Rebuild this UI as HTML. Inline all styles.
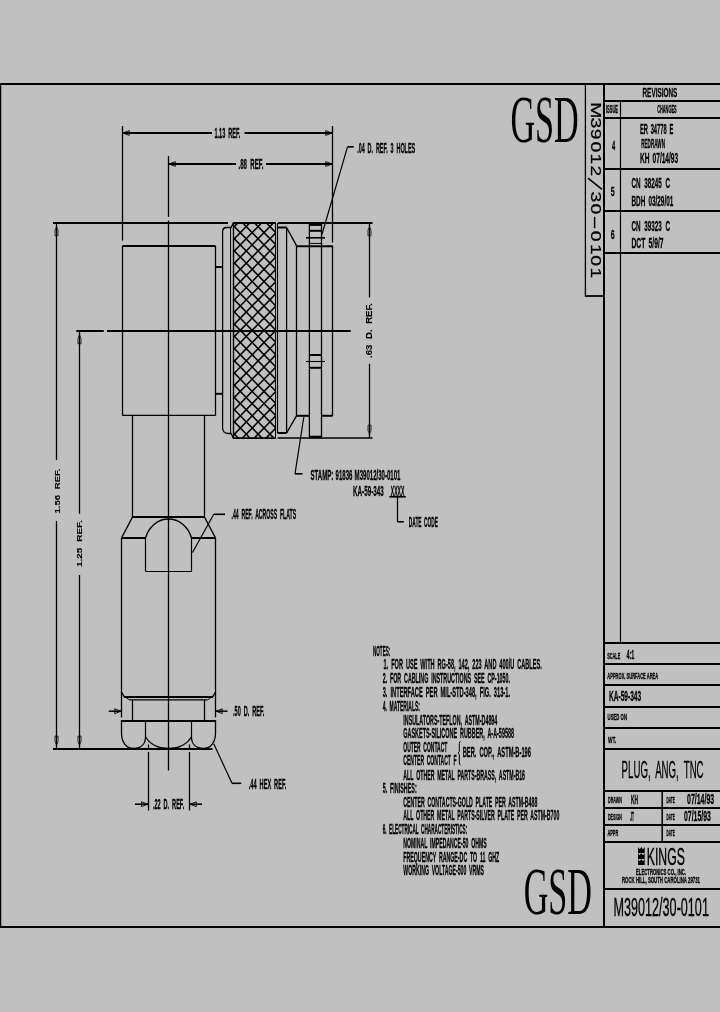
<!DOCTYPE html>
<html><head><meta charset="utf-8"><title>M39012/30-0101</title>
<style>
html,body{margin:0;padding:0;background:#c0c0c0;}
body{width:720px;height:1012px;overflow:hidden;font-family:"Liberation Sans",sans-serif;}
svg{display:block;position:absolute;left:0;top:0;will-change:transform;}
</style></head><body>
<svg width="720" height="1012" viewBox="0 0 720 1012" stroke="#000" fill="none" stroke-linecap="butt">
<rect x="0" y="0" width="720" height="1012" fill="#c0c0c0" stroke="none"/>
<g id="frame">
<line x1="0" y1="84" x2="720" y2="84" stroke-width="2.0" />
<line x1="0" y1="927" x2="720" y2="927" stroke-width="2.0" />
<line x1="0.6" y1="83" x2="0.6" y2="928" stroke-width="1.3" />
</g>
<g id="tb-lines">
<line x1="604" y1="83" x2="604" y2="927" stroke-width="2.0" />
<line x1="585.4" y1="83" x2="585.4" y2="296" stroke-width="1.3" />
<line x1="584.8" y1="296" x2="604" y2="296" stroke-width="1.8" />
<line x1="604" y1="101" x2="720" y2="101" stroke-width="2.0" />
<line x1="604" y1="118" x2="720" y2="118" stroke-width="2.0" />
<line x1="604" y1="169" x2="720" y2="169" stroke-width="2.0" />
<line x1="604" y1="211" x2="720" y2="211" stroke-width="2.0" />
<line x1="604" y1="253" x2="720" y2="253" stroke-width="2.0" />
<line x1="620.5" y1="101" x2="620.5" y2="643" stroke-width="1.2" />
<line x1="604" y1="643" x2="720" y2="643" stroke-width="2.0" />
<line x1="604" y1="664" x2="720" y2="664" stroke-width="2.0" />
<line x1="604" y1="685" x2="720" y2="685" stroke-width="2.0" />
<line x1="604" y1="707" x2="720" y2="707" stroke-width="2.0" />
<line x1="604" y1="728" x2="720" y2="728" stroke-width="2.0" />
<line x1="604" y1="749" x2="720" y2="749" stroke-width="2.0" />
<line x1="604" y1="791" x2="720" y2="791" stroke-width="2.0" />
<line x1="604" y1="808" x2="720" y2="808" stroke-width="2.0" />
<line x1="604" y1="825" x2="720" y2="825" stroke-width="2.0" />
<line x1="604" y1="842" x2="720" y2="842" stroke-width="2.0" />
<line x1="604" y1="889" x2="720" y2="889" stroke-width="2.0" />
<line x1="662.2" y1="791" x2="662.2" y2="842" stroke-width="1.5" />
</g>
<g id="tb-text">
<text x="642.50" y="96.70" font-size="13.66" font-weight="bold" font-family="Liberation Sans" textLength="34.80" lengthAdjust="spacingAndGlyphs" stroke="#000" stroke-width="0.3"  fill="#000" >REVISIONS</text>
<text x="606.00" y="112.95" font-size="10.03" font-weight="bold" font-family="Liberation Sans" textLength="12.00" lengthAdjust="spacingAndGlyphs" stroke="#000" stroke-width="0.3"  fill="#000" >ISSUE</text>
<text x="657.20" y="112.95" font-size="10.03" font-weight="bold" font-family="Liberation Sans" textLength="19.40" lengthAdjust="spacingAndGlyphs" stroke="#000" stroke-width="0.3"  fill="#000" >CHANGES</text>
<text x="612.00" y="149.65" font-size="12.65" font-weight="bold" font-family="Liberation Sans" textLength="3.20" lengthAdjust="spacingAndGlyphs" stroke="#000" stroke-width="0.3"  fill="#000" >4</text>
<text x="639.90" y="133.60" font-size="14.53" font-weight="bold" font-family="Liberation Sans" textLength="33.40" lengthAdjust="spacingAndGlyphs" stroke="#000" stroke-width="0.3" word-spacing="0.2em" fill="#000" >ER 34778 E</text>
<text x="641.20" y="148.15" font-size="12.35" font-weight="bold" font-family="Liberation Sans" textLength="23.80" lengthAdjust="spacingAndGlyphs" stroke="#000" stroke-width="0.3"  fill="#000" >REDRAWN</text>
<text x="639.90" y="162.90" font-size="14.53" font-weight="bold" font-family="Liberation Sans" textLength="38.30" lengthAdjust="spacingAndGlyphs" stroke="#000" stroke-width="0.3" word-spacing="0.2em" fill="#000" >KH 07/14/93</text>
<text x="610.70" y="195.85" font-size="12.65" font-weight="bold" font-family="Liberation Sans" textLength="3.90" lengthAdjust="spacingAndGlyphs" stroke="#000" stroke-width="0.3"  fill="#000" >5</text>
<text x="631.50" y="188.40" font-size="14.53" font-weight="bold" font-family="Liberation Sans" textLength="38.50" lengthAdjust="spacingAndGlyphs" stroke="#000" stroke-width="0.3" word-spacing="0.3em" fill="#000" >CN 38245 C</text>
<text x="631.50" y="205.70" font-size="14.53" font-weight="bold" font-family="Liberation Sans" textLength="41.80" lengthAdjust="spacingAndGlyphs" stroke="#000" stroke-width="0.3" word-spacing="0.2em" fill="#000" >BDH 03/29/01</text>
<text x="610.70" y="238.65" font-size="12.65" font-weight="bold" font-family="Liberation Sans" textLength="3.90" lengthAdjust="spacingAndGlyphs" stroke="#000" stroke-width="0.3"  fill="#000" >6</text>
<text x="631.50" y="230.60" font-size="14.53" font-weight="bold" font-family="Liberation Sans" textLength="38.50" lengthAdjust="spacingAndGlyphs" stroke="#000" stroke-width="0.3" word-spacing="0.3em" fill="#000" >CN 39323 C</text>
<text x="631.50" y="247.70" font-size="14.53" font-weight="bold" font-family="Liberation Sans" textLength="32.10" lengthAdjust="spacingAndGlyphs" stroke="#000" stroke-width="0.3" word-spacing="0.2em" fill="#000" >DCT 5/9/7</text>
<text transform="translate(590.5,0) rotate(90) scale(1.3,1)" x="78.62 90.43 99.11 108.80 118.15 127.38 147.35 156.57 177.57 187.77 196.34 205.69" y="0" font-size="14.9" font-weight="normal" font-family="Liberation Sans" stroke="#000" stroke-width="0.25" fill="#000">M39012300101</text>
<line x1="588" y1="178.2" x2="602" y2="189.3" stroke-width="1.5" />
<line x1="594.6" y1="216.8" x2="594.6" y2="228.2" stroke-width="1.5" />
<text x="607.30" y="658.75" font-size="9.74" font-weight="bold" font-family="Liberation Sans" textLength="12.90" lengthAdjust="spacingAndGlyphs" stroke="#000" stroke-width="0.3"  fill="#000" >SCALE</text>
<text x="626.50" y="658.75" font-size="12.65" font-weight="bold" font-family="Liberation Sans" textLength="7.90" lengthAdjust="spacingAndGlyphs" stroke="#000" stroke-width="0.3"  fill="#000" >4:1</text>
<text x="607.30" y="679.35" font-size="9.45" font-weight="bold" font-family="Liberation Sans" textLength="50.90" lengthAdjust="spacingAndGlyphs" stroke="#000" stroke-width="0.3"  fill="#000" >APPROX. SURFACE AREA</text>
<text x="608.90" y="700.65" font-size="14.39" font-weight="bold" font-family="Liberation Sans" textLength="32.30" lengthAdjust="spacingAndGlyphs" stroke="#000" stroke-width="0.3"  fill="#000" >KA-59-343</text>
<text x="607.60" y="719.75" font-size="9.45" font-weight="bold" font-family="Liberation Sans" textLength="19.40" lengthAdjust="spacingAndGlyphs" stroke="#000" stroke-width="0.3"  fill="#000" >USED ON</text>
<text x="608.00" y="742.60" font-size="9.59" font-weight="bold" font-family="Liberation Sans" textLength="8.20" lengthAdjust="spacingAndGlyphs" stroke="#000" stroke-width="0.3"  fill="#000" >WT.</text>
<text x="621.60" y="778.20" font-size="24.71" font-weight="normal" font-family="Liberation Sans" textLength="82.00" lengthAdjust="spacingAndGlyphs" stroke="#000" stroke-width="0.35" word-spacing="0.25em" fill="#000" >PLUG, ANG, TNC</text>
<text x="608.00" y="802.55" font-size="9.45" font-weight="bold" font-family="Liberation Sans" textLength="13.80" lengthAdjust="spacingAndGlyphs" stroke="#000" stroke-width="0.3"  fill="#000" >DRAWN</text>
<text x="631.00" y="803.85" font-size="12.35" font-weight="bold" font-family="Liberation Sans" textLength="7.00" lengthAdjust="spacingAndGlyphs" stroke="#000" stroke-width="0.3"  fill="#000" >KH</text>
<text x="666.50" y="802.75" font-size="9.16" font-weight="bold" font-family="Liberation Sans" textLength="8.20" lengthAdjust="spacingAndGlyphs" stroke="#000" stroke-width="0.3"  fill="#000" >DATE</text>
<text x="687.00" y="804.35" font-size="14.10" font-weight="bold" font-family="Liberation Sans" textLength="27.20" lengthAdjust="spacingAndGlyphs" stroke="#000" stroke-width="0.3"  fill="#000" >07/14/93</text>
<text x="608.00" y="819.70" font-size="9.59" font-weight="bold" font-family="Liberation Sans" textLength="13.80" lengthAdjust="spacingAndGlyphs" stroke="#000" stroke-width="0.3"  fill="#000" >DESIGN</text>
<text x="630.20" y="820.85" font-size="12.35" font-weight="bold" font-family="Liberation Sans" textLength="3.80" lengthAdjust="spacingAndGlyphs" stroke="#000" stroke-width="0.3"  fill="#000" >JT</text>
<text x="666.50" y="819.75" font-size="9.16" font-weight="bold" font-family="Liberation Sans" textLength="8.20" lengthAdjust="spacingAndGlyphs" stroke="#000" stroke-width="0.3"  fill="#000" >DATE</text>
<text x="684.00" y="821.35" font-size="14.10" font-weight="bold" font-family="Liberation Sans" textLength="26.90" lengthAdjust="spacingAndGlyphs" stroke="#000" stroke-width="0.3"  fill="#000" >07/15/93</text>
<text x="607.40" y="836.15" font-size="9.16" font-weight="bold" font-family="Liberation Sans" textLength="10.80" lengthAdjust="spacingAndGlyphs" stroke="#000" stroke-width="0.3"  fill="#000" >APPR</text>
<text x="666.50" y="836.15" font-size="9.16" font-weight="bold" font-family="Liberation Sans" textLength="8.20" lengthAdjust="spacingAndGlyphs" stroke="#000" stroke-width="0.3"  fill="#000" >DATE</text>
<path d="M638,853.0 L638,847 L639.7,849.3 L641.35,847 L643,849.3 L644.7,847 L644.7,853.0 Z" fill="#000" stroke="none"/>
<path d="M638,859.0 L638,853.0 L639.7,855.3 L641.35,853.0 L643,855.3 L644.7,853.0 L644.7,859.0 Z" fill="#000" stroke="none"/>
<path d="M638,864.9 L638,859.0 L639.7,861.3 L641.35,859.0 L643,861.3 L644.7,859.0 L644.7,864.9 Z" fill="#000" stroke="none"/>
<text x="646.80" y="864.50" font-size="24.71" font-weight="normal" font-family="Liberation Sans" textLength="38.00" lengthAdjust="spacingAndGlyphs" stroke="#000" stroke-width="0.4"  fill="#000" >KINGS</text>
<text x="636.00" y="874.65" font-size="9.45" font-weight="bold" font-family="Liberation Sans" textLength="50.00" lengthAdjust="spacingAndGlyphs" stroke="#000" stroke-width="0.3"  fill="#000" >ELECTRONICS CO., INC.</text>
<text x="622.00" y="882.90" font-size="9.59" font-weight="bold" font-family="Liberation Sans" textLength="78.00" lengthAdjust="spacingAndGlyphs" stroke="#000" stroke-width="0.3"  fill="#000" >ROCK HILL, SOUTH CAROLINA 29731</text>
<text x="613.50" y="916.00" font-size="26.16" font-weight="normal" font-family="Liberation Sans" textLength="95.40" lengthAdjust="spacingAndGlyphs" stroke="#000" stroke-width="0.35"  fill="#000" >M39012/30-0101</text>
</g>
<g id="gsd">
<text x="510.40" y="141.55" font-size="67.63" font-weight="normal" font-family="Liberation Serif" textLength="68.30" lengthAdjust="spacingAndGlyphs" stroke="none"  fill="#000" >GSD</text>
<text x="523.70" y="914.15" font-size="67.63" font-weight="normal" font-family="Liberation Serif" textLength="68.30" lengthAdjust="spacingAndGlyphs" stroke="none"  fill="#000" >GSD</text>
</g>
<g id="notes">
<text x="373.00" y="655.60" font-size="14.53" font-weight="bold" font-family="Liberation Sans" textLength="17.30" lengthAdjust="spacingAndGlyphs" stroke="#000" stroke-width="0.3"  fill="#000" >NOTES:</text>
<text x="383.60" y="669.40" font-size="14.53" font-weight="bold" font-family="Liberation Sans" textLength="158.10" lengthAdjust="spacingAndGlyphs" stroke="#000" stroke-width="0.3" word-spacing="0.25em" fill="#000" >1. FOR USE WITH RG-58, 142, 223 AND 400/U CABLES.</text>
<text x="382.70" y="683.20" font-size="14.53" font-weight="bold" font-family="Liberation Sans" textLength="127.30" lengthAdjust="spacingAndGlyphs" stroke="#000" stroke-width="0.3" word-spacing="0.25em" fill="#000" >2. FOR CABLING INSTRUCTIONS SEE CP-1050.</text>
<text x="382.70" y="697.00" font-size="14.53" font-weight="bold" font-family="Liberation Sans" textLength="127.30" lengthAdjust="spacingAndGlyphs" stroke="#000" stroke-width="0.3" word-spacing="0.25em" fill="#000" >3. INTERFACE PER MIL-STD-348, FIG. 313-1.</text>
<text x="382.70" y="711.00" font-size="14.53" font-weight="bold" font-family="Liberation Sans" textLength="37.30" lengthAdjust="spacingAndGlyphs" stroke="#000" stroke-width="0.3" word-spacing="0.25em" fill="#000" >4. MATERIALS:</text>
<text x="403.30" y="725.00" font-size="14.53" font-weight="bold" font-family="Liberation Sans" textLength="94.00" lengthAdjust="spacingAndGlyphs" stroke="#000" stroke-width="0.3" word-spacing="0.25em" fill="#000" >INSULATORS-TEFLON, ASTM-D4894</text>
<text x="403.30" y="738.40" font-size="14.53" font-weight="bold" font-family="Liberation Sans" textLength="110.70" lengthAdjust="spacingAndGlyphs" stroke="#000" stroke-width="0.3" word-spacing="0.25em" fill="#000" >GASKETS-SILICONE RUBBER, A-A-59588</text>
<text x="403.30" y="752.30" font-size="14.53" font-weight="bold" font-family="Liberation Sans" textLength="44.00" lengthAdjust="spacingAndGlyphs" stroke="#000" stroke-width="0.3" word-spacing="0.25em" fill="#000" >OUTER CONTACT</text>
<text x="403.30" y="765.20" font-size="14.53" font-weight="bold" font-family="Liberation Sans" textLength="53.40" lengthAdjust="spacingAndGlyphs" stroke="#000" stroke-width="0.3" word-spacing="0.25em" fill="#000" >CENTER CONTACT F</text>
<text x="462.70" y="757.30" font-size="14.53" font-weight="bold" font-family="Liberation Sans" textLength="68.30" lengthAdjust="spacingAndGlyphs" stroke="#000" stroke-width="0.3" word-spacing="0.25em" fill="#000" >BER. COP., ASTM-B-196</text>
<text x="403.30" y="780.00" font-size="14.53" font-weight="bold" font-family="Liberation Sans" textLength="121.70" lengthAdjust="spacingAndGlyphs" stroke="#000" stroke-width="0.3" word-spacing="0.25em" fill="#000" >ALL OTHER METAL PARTS-BRASS, ASTM-B16</text>
<text x="382.70" y="792.70" font-size="14.53" font-weight="bold" font-family="Liberation Sans" textLength="34.00" lengthAdjust="spacingAndGlyphs" stroke="#000" stroke-width="0.3" word-spacing="0.25em" fill="#000" >5. FINISHES:</text>
<text x="403.30" y="806.70" font-size="14.53" font-weight="bold" font-family="Liberation Sans" textLength="134.00" lengthAdjust="spacingAndGlyphs" stroke="#000" stroke-width="0.3" word-spacing="0.25em" fill="#000" >CENTER CONTACTS-GOLD PLATE PER ASTM-B488</text>
<text x="403.30" y="820.00" font-size="14.53" font-weight="bold" font-family="Liberation Sans" textLength="156.00" lengthAdjust="spacingAndGlyphs" stroke="#000" stroke-width="0.3" word-spacing="0.25em" fill="#000" >ALL OTHER METAL PARTS-SILVER PLATE PER ASTM-B700</text>
<text x="382.70" y="834.30" font-size="14.53" font-weight="bold" font-family="Liberation Sans" textLength="84.60" lengthAdjust="spacingAndGlyphs" stroke="#000" stroke-width="0.3" word-spacing="0.25em" fill="#000" >6. ELECTRICAL CHARACTERISTICS:</text>
<text x="403.30" y="847.70" font-size="14.53" font-weight="bold" font-family="Liberation Sans" textLength="83.40" lengthAdjust="spacingAndGlyphs" stroke="#000" stroke-width="0.3" word-spacing="0.25em" fill="#000" >NOMINAL IMPEDANCE-50 OHMS</text>
<text x="403.30" y="861.70" font-size="14.53" font-weight="bold" font-family="Liberation Sans" textLength="96.00" lengthAdjust="spacingAndGlyphs" stroke="#000" stroke-width="0.3" word-spacing="0.25em" fill="#000" >FREQUENCY RANGE-DC TO 11 GHZ</text>
<text x="403.30" y="875.00" font-size="14.53" font-weight="bold" font-family="Liberation Sans" textLength="80.70" lengthAdjust="spacingAndGlyphs" stroke="#000" stroke-width="0.3" word-spacing="0.25em" fill="#000" >WORKING VOLTAGE-500 VRMS</text>
<path d="M460.6,741.5 Q459.3,741.5 459.3,743.5 L459.3,751.5 L458,753 L459.3,754.5 L459.3,763 Q459.3,765 460.6,765" stroke-width="1.0" fill="none" />
</g>
<g id="dimtext">
<text x="214.40" y="138.10" font-size="14.53" font-weight="bold" font-family="Liberation Sans" textLength="25.90" lengthAdjust="spacingAndGlyphs" stroke="#000" stroke-width="0.3" word-spacing="0.25em" fill="#000" >1.13 REF.</text>
<text x="238.50" y="169.00" font-size="14.53" font-weight="bold" font-family="Liberation Sans" textLength="25.00" lengthAdjust="spacingAndGlyphs" stroke="#000" stroke-width="0.3" word-spacing="0.25em" fill="#000" >.88 REF.</text>
<text x="357.20" y="153.00" font-size="14.53" font-weight="bold" font-family="Liberation Sans" textLength="58.00" lengthAdjust="spacingAndGlyphs" stroke="#000" stroke-width="0.3" word-spacing="0.25em" fill="#000" >.04 D. REF. 3 HOLES</text>
<text x="231.50" y="519.20" font-size="14.53" font-weight="bold" font-family="Liberation Sans" textLength="64.70" lengthAdjust="spacingAndGlyphs" stroke="#000" stroke-width="0.3" word-spacing="0.25em" fill="#000" >.44 REF. ACROSS FLATS</text>
<text x="310.50" y="480.00" font-size="14.53" font-weight="bold" font-family="Liberation Sans" textLength="90.00" lengthAdjust="spacingAndGlyphs" stroke="#000" stroke-width="0.3" word-spacing="0.08em" fill="#000" >STAMP: 91836 M39012/30-0101</text>
<text x="353.00" y="495.80" font-size="14.53" font-weight="bold" font-family="Liberation Sans" textLength="30.80" lengthAdjust="spacingAndGlyphs" stroke="#000" stroke-width="0.3"  fill="#000" >KA-59-343</text>
<text x="390.80" y="495.80" font-size="14.53" font-weight="bold" font-family="Liberation Sans" textLength="13.50" lengthAdjust="spacingAndGlyphs" stroke="#000" stroke-width="0.3"  fill="#000" >XXXX</text>
<text x="408.80" y="527.00" font-size="14.53" font-weight="bold" font-family="Liberation Sans" textLength="29.20" lengthAdjust="spacingAndGlyphs" stroke="#000" stroke-width="0.3" word-spacing="0.25em" fill="#000" >DATE CODE</text>
<text x="233.00" y="716.30" font-size="14.53" font-weight="bold" font-family="Liberation Sans" textLength="31.30" lengthAdjust="spacingAndGlyphs" stroke="#000" stroke-width="0.3" word-spacing="0.25em" fill="#000" >.50 D. REF.</text>
<text x="248.80" y="788.70" font-size="14.53" font-weight="bold" font-family="Liberation Sans" textLength="37.50" lengthAdjust="spacingAndGlyphs" stroke="#000" stroke-width="0.3" word-spacing="0.25em" fill="#000" >.44 HEX REF.</text>
<text x="152.90" y="809.20" font-size="14.53" font-weight="bold" font-family="Liberation Sans" textLength="31.30" lengthAdjust="spacingAndGlyphs" stroke="#000" stroke-width="0.3" word-spacing="0.25em" fill="#000" >.22 D. REF.</text>
<text transform="translate(372.20,358.00) rotate(-90)" x="0" y="0" font-size="8.72" font-weight="bold" font-family="Liberation Sans" textLength="55.00" lengthAdjust="spacingAndGlyphs" stroke="#000" stroke-width="0.1" word-spacing="0.3em" fill="#000">.63 D. REF.</text>
<text transform="translate(59.55,513.50) rotate(-90)" x="0" y="0" font-size="7.99" font-weight="bold" font-family="Liberation Sans" textLength="45.00" lengthAdjust="spacingAndGlyphs" stroke="#000" stroke-width="0.08" word-spacing="0.3em" fill="#000">1.56 REF.</text>
<text transform="translate(82.35,567.00) rotate(-90)" x="0" y="0" font-size="7.99" font-weight="bold" font-family="Liberation Sans" textLength="46.80" lengthAdjust="spacingAndGlyphs" stroke="#000" stroke-width="0.08" word-spacing="0.3em" fill="#000">1.25 REF.</text>
</g>
<g id="geom">
<line x1="122.5" y1="126" x2="122.5" y2="240.6" stroke-width="1.3" />
<line x1="332.5" y1="126" x2="332.5" y2="242.5" stroke-width="1.3" />
<line x1="122.5" y1="133" x2="212" y2="133" stroke-width="2.0" />
<line x1="244.5" y1="133" x2="332.5" y2="133" stroke-width="2.0" />
<path d="M123.0,133 L129.3,130.6 L129.3,135.4 Z" stroke-width="0.9" fill="none" />
<path d="M332,133 L325.7,130.6 L325.7,135.4 Z" stroke-width="0.9" fill="none" />
<line x1="168.5" y1="156" x2="168.5" y2="216.9" stroke-width="1.3" />
<line x1="168.5" y1="164" x2="236" y2="164" stroke-width="2.0" />
<line x1="266" y1="164" x2="332.5" y2="164" stroke-width="2.0" />
<path d="M169.0,164 L175.3,161.6 L175.3,166.4 Z" stroke-width="0.9" fill="none" />
<path d="M332,164 L325.7,161.6 L325.7,166.4 Z" stroke-width="0.9" fill="none" />
<path d="M321.8,235 L347.5,146.8" stroke-width="1.2" fill="none" />
<line x1="347.5" y1="146.8" x2="353.8" y2="146.8" stroke-width="1.6" />
<line x1="53" y1="223" x2="228" y2="223" stroke-width="2.0" />
<line x1="278" y1="223" x2="372.5" y2="223" stroke-width="2.0" />
<line x1="277.5" y1="438" x2="372.6" y2="438" stroke-width="1.5" />
<line x1="76.3" y1="331" x2="103.8" y2="331" stroke-width="2.0" />
<line x1="107" y1="331" x2="350.8" y2="331" stroke-width="2.0" />
<line x1="168.5" y1="220.6" x2="168.5" y2="770.5" stroke-width="1.3" />
<line x1="122.5" y1="246" x2="215.5" y2="246" stroke-width="2.0" />
<line x1="122.5" y1="246" x2="122.5" y2="415.5" stroke-width="1.3" />
<line x1="215.5" y1="246" x2="215.5" y2="415.5" stroke-width="1.3" />
<line x1="122.5" y1="415.4" x2="215.5" y2="415.4" stroke-width="1.3" />
<line x1="215.5" y1="267" x2="222.6" y2="267" stroke-width="2.0" />
<line x1="215.5" y1="393.8" x2="222.6" y2="393.8" stroke-width="2.0" />
<path d="M233.4,223 L231,227.5 L225.6,227.5 Q222.6,228 222.6,232 L222.6,428 Q222.6,433 228,433.5 L231,433.5 L233.4,438" stroke-width="1.3" fill="none" />
<line x1="230.6" y1="227.5" x2="230.6" y2="433.5" stroke-width="1.0" />
<line x1="233.5" y1="223" x2="233.5" y2="438" stroke-width="1.4" />
<line x1="275.5" y1="223" x2="275.5" y2="438" stroke-width="1.0" />
<line x1="232.8" y1="223" x2="276" y2="223" stroke-width="2.1" />
<line x1="232.8" y1="438.2" x2="276" y2="438.2" stroke-width="1.8" />
<line x1="277.5" y1="223" x2="277.5" y2="433" stroke-width="1.2" />
<line x1="277.5" y1="227.5" x2="286.6" y2="227.5" stroke-width="2.0" />
<line x1="286.6" y1="227.5" x2="296.5" y2="245.6" stroke-width="1.4" />
<line x1="296.5" y1="246.2" x2="332.5" y2="246.2" stroke-width="2.0" />
<line x1="277.5" y1="433" x2="286.6" y2="433" stroke-width="2.0" />
<line x1="286.6" y1="433" x2="296.5" y2="415.8" stroke-width="1.4" />
<line x1="296.5" y1="415.8" x2="309" y2="415.8" stroke-width="2.0" />
<line x1="321.8" y1="415.8" x2="332.5" y2="415.8" stroke-width="2.0" />
<line x1="286.6" y1="227.5" x2="286.6" y2="433" stroke-width="1.3" />
<line x1="296.5" y1="245.6" x2="296.5" y2="415.8" stroke-width="1.3" />
<line x1="332.5" y1="245.6" x2="332.5" y2="415.8" stroke-width="1.3" />
<line x1="309.4" y1="223.5" x2="309.4" y2="437.5" stroke-width="1.3" />
<line x1="321.5" y1="223.5" x2="321.5" y2="437.5" stroke-width="1.3" />
<line x1="309.4" y1="224.6" x2="321.5" y2="224.6" stroke-width="2.6" />
<line x1="309.4" y1="230.8" x2="321.5" y2="230.8" stroke-width="2.0" />
<line x1="306" y1="237.8" x2="325" y2="237.8" stroke-width="1.6" />
<line x1="309.4" y1="243.4" x2="321.5" y2="243.4" stroke-width="1.0" />
<line x1="309.4" y1="355" x2="321.5" y2="355" stroke-width="2.0" />
<line x1="306" y1="361.5" x2="325" y2="361.5" stroke-width="1.1" />
<line x1="309.4" y1="367.8" x2="321.5" y2="367.8" stroke-width="2.0" />
<line x1="309.4" y1="437" x2="321.5" y2="437" stroke-width="2.6" />
<line x1="369.5" y1="223" x2="369.5" y2="297.5" stroke-width="1.3" />
<line x1="369.5" y1="363.8" x2="369.5" y2="438" stroke-width="1.3" />
<path d="M369.5,226.8 L368.0,230.3 L368.0,235.8 L371.0,235.8 L371.0,230.3 Z" stroke-width="0.8" fill="none" />
<path d="M369.5,434.2 L368.0,430.7 L368.0,425.2 L371.0,425.2 L371.0,430.7 Z" stroke-width="0.8" fill="none" />
<path d="M303.8,417 L295,473.8" stroke-width="1.2" fill="none" />
<line x1="295" y1="473.8" x2="302.5" y2="473.8" stroke-width="1.6" />
<line x1="389.3" y1="496.8" x2="405.8" y2="496.8" stroke-width="1.6" />
<line x1="397.5" y1="496.8" x2="397.5" y2="521.8" stroke-width="1.3" />
<line x1="397.5" y1="521.8" x2="403.8" y2="521.8" stroke-width="1.6" />
<line x1="56.5" y1="223" x2="56.5" y2="460" stroke-width="1.3" />
<line x1="56.5" y1="521" x2="56.5" y2="748" stroke-width="1.3" />
<path d="M56.5,226.8 L55.0,230.3 L55.0,235.8 L58.0,235.8 L58.0,230.3 Z" stroke-width="0.8" fill="none" />
<path d="M56.5,745 L55.0,741.5 L55.0,736 L58.0,736 L58.0,741.5 Z" stroke-width="0.8" fill="none" />
<line x1="79.5" y1="331" x2="79.5" y2="513.8" stroke-width="1.3" />
<line x1="79.5" y1="575" x2="79.5" y2="748" stroke-width="1.3" />
<path d="M79.5,334.8 L78.0,338.3 L78.0,343.8 L81.0,343.8 L81.0,338.3 Z" stroke-width="0.8" fill="none" />
<path d="M79.5,745 L78.0,741.5 L78.0,736 L81.0,736 L81.0,741.5 Z" stroke-width="0.8" fill="none" />
<line x1="132.5" y1="415.5" x2="132.5" y2="517" stroke-width="1.3" />
<line x1="204.5" y1="415.5" x2="204.5" y2="517" stroke-width="1.3" />
<line x1="132.5" y1="517" x2="204.5" y2="517" stroke-width="2.0" />
<line x1="132.5" y1="517" x2="121.5" y2="538" stroke-width="1.4" />
<line x1="204.5" y1="517" x2="215.5" y2="538" stroke-width="1.4" />
<line x1="121.5" y1="538" x2="145.5" y2="538" stroke-width="2.0" />
<line x1="191.5" y1="538" x2="215.5" y2="538" stroke-width="2.0" />
<path d="M145.5,538 A24.2,27.5 0 0 1 191.5,538" stroke-width="1.4" fill="none" />
<line x1="145.5" y1="538" x2="145.5" y2="571.5" stroke-width="1.2" />
<line x1="145.5" y1="571.5" x2="191.5" y2="571.5" stroke-width="1.2" />
<line x1="191.5" y1="571.5" x2="191.5" y2="538" stroke-width="1.2" />
<path d="M192.5,552.5 L213.75,514.3" stroke-width="1.2" fill="none" />
<line x1="213.75" y1="514.3" x2="225" y2="514.3" stroke-width="1.6" />
<path d="M121.5,538 L121.5,692 L124.3,696.9 M212.7,696.9 L215.5,692 L215.5,538" stroke-width="1.3" fill="none" />
<line x1="124" y1="697" x2="213" y2="697" stroke-width="2.0" />
<path d="M126.5,698 L129.4,699.8 M210.5,698 L207.6,699.8" stroke-width="1.0" fill="none" />
<line x1="129.4" y1="699.9" x2="207.6" y2="699.9" stroke-width="1.1" />
<line x1="132.5" y1="700" x2="132.5" y2="720.5" stroke-width="1.3" />
<line x1="204.5" y1="700" x2="204.5" y2="720.5" stroke-width="1.3" />
<line x1="121.5" y1="692" x2="121.5" y2="717.4" stroke-width="1.3" />
<line x1="215.5" y1="692" x2="215.5" y2="717.4" stroke-width="1.3" />
<line x1="108.8" y1="711.2" x2="121.5" y2="711.2" stroke-width="1.6" />
<path d="M121,711.2 L114.7,708.8000000000001 L114.7,713.6 Z" stroke-width="0.9" fill="none" />
<line x1="215.5" y1="711.2" x2="227.5" y2="711.2" stroke-width="1.6" />
<path d="M216,711.2 L222.3,708.8000000000001 L222.3,713.6 Z" stroke-width="0.9" fill="none" />
<line x1="120.9" y1="721" x2="216.1" y2="721" stroke-width="2.0" />
<line x1="145.5" y1="721" x2="145.5" y2="737" stroke-width="1.2" />
<line x1="191.5" y1="721" x2="191.5" y2="737" stroke-width="1.2" />
<path d="M121.5,721 L121.5,733 C121.5,742 126,748.3 133.5,748.3 C141,748.3 145.5,744 145.5,737" stroke-width="1.3" fill="none" />
<path d="M215.5,721 L215.5,733 C215.5,742 211,748.3 203.5,748.3 C196,748.3 191.5,744 191.5,737" stroke-width="1.3" fill="none" />
<path d="M145.5,737 C150,744 158,748.5 168.5,748.5 C179,748.5 187,744 191.5,737" stroke-width="1.3" fill="none" />
<line x1="53" y1="749" x2="212.5" y2="749" stroke-width="2.0" />
<line x1="148.5" y1="744.5" x2="148.5" y2="748" stroke-width="1.3" />
<line x1="189.5" y1="744.5" x2="189.5" y2="748" stroke-width="1.3" />
<line x1="148.5" y1="752" x2="148.5" y2="810.5" stroke-width="1.3" />
<line x1="189.5" y1="752" x2="189.5" y2="810.5" stroke-width="1.3" />
<line x1="135" y1="804.2" x2="148.5" y2="804.2" stroke-width="1.6" />
<path d="M147.8,804.2 L141.5,801.8000000000001 L141.5,806.6 Z" stroke-width="0.9" fill="none" />
<line x1="189.5" y1="804.2" x2="202" y2="804.2" stroke-width="1.6" />
<path d="M190,804.2 L196.3,801.8000000000001 L196.3,806.6 Z" stroke-width="0.9" fill="none" />
<path d="M213.75,743.8 L232,783.3" stroke-width="1.2" fill="none" />
<line x1="232" y1="783.3" x2="241.3" y2="783.3" stroke-width="1.6" />
</g>
<g id="knurl"><clipPath id="kc"><rect x="233.4" y="223" width="42.3" height="215.2"/></clipPath><g clip-path="url(#kc)" stroke-width="1.55">
<line x1="-287.00" y1="-5.45" x2="187.00" y2="482.95"/>
<line x1="-287.00" y1="482.95" x2="187.00" y2="-5.45"/>
<line x1="-275.15" y1="-5.45" x2="198.85" y2="482.95"/>
<line x1="-275.15" y1="482.95" x2="198.85" y2="-5.45"/>
<line x1="-263.30" y1="-5.45" x2="210.70" y2="482.95"/>
<line x1="-263.30" y1="482.95" x2="210.70" y2="-5.45"/>
<line x1="-251.45" y1="-5.45" x2="222.55" y2="482.95"/>
<line x1="-251.45" y1="482.95" x2="222.55" y2="-5.45"/>
<line x1="-239.60" y1="-5.45" x2="234.40" y2="482.95"/>
<line x1="-239.60" y1="482.95" x2="234.40" y2="-5.45"/>
<line x1="-227.75" y1="-5.45" x2="246.25" y2="482.95"/>
<line x1="-227.75" y1="482.95" x2="246.25" y2="-5.45"/>
<line x1="-215.90" y1="-5.45" x2="258.10" y2="482.95"/>
<line x1="-215.90" y1="482.95" x2="258.10" y2="-5.45"/>
<line x1="-204.05" y1="-5.45" x2="269.95" y2="482.95"/>
<line x1="-204.05" y1="482.95" x2="269.95" y2="-5.45"/>
<line x1="-192.20" y1="-5.45" x2="281.80" y2="482.95"/>
<line x1="-192.20" y1="482.95" x2="281.80" y2="-5.45"/>
<line x1="-180.35" y1="-5.45" x2="293.65" y2="482.95"/>
<line x1="-180.35" y1="482.95" x2="293.65" y2="-5.45"/>
<line x1="-168.50" y1="-5.45" x2="305.50" y2="482.95"/>
<line x1="-168.50" y1="482.95" x2="305.50" y2="-5.45"/>
<line x1="-156.65" y1="-5.45" x2="317.35" y2="482.95"/>
<line x1="-156.65" y1="482.95" x2="317.35" y2="-5.45"/>
<line x1="-144.80" y1="-5.45" x2="329.20" y2="482.95"/>
<line x1="-144.80" y1="482.95" x2="329.20" y2="-5.45"/>
<line x1="-132.95" y1="-5.45" x2="341.05" y2="482.95"/>
<line x1="-132.95" y1="482.95" x2="341.05" y2="-5.45"/>
<line x1="-121.10" y1="-5.45" x2="352.90" y2="482.95"/>
<line x1="-121.10" y1="482.95" x2="352.90" y2="-5.45"/>
<line x1="-109.25" y1="-5.45" x2="364.75" y2="482.95"/>
<line x1="-109.25" y1="482.95" x2="364.75" y2="-5.45"/>
<line x1="-97.40" y1="-5.45" x2="376.60" y2="482.95"/>
<line x1="-97.40" y1="482.95" x2="376.60" y2="-5.45"/>
<line x1="-85.55" y1="-5.45" x2="388.45" y2="482.95"/>
<line x1="-85.55" y1="482.95" x2="388.45" y2="-5.45"/>
<line x1="-73.70" y1="-5.45" x2="400.30" y2="482.95"/>
<line x1="-73.70" y1="482.95" x2="400.30" y2="-5.45"/>
<line x1="-61.85" y1="-5.45" x2="412.15" y2="482.95"/>
<line x1="-61.85" y1="482.95" x2="412.15" y2="-5.45"/>
<line x1="-50.00" y1="-5.45" x2="424.00" y2="482.95"/>
<line x1="-50.00" y1="482.95" x2="424.00" y2="-5.45"/>
<line x1="-38.15" y1="-5.45" x2="435.85" y2="482.95"/>
<line x1="-38.15" y1="482.95" x2="435.85" y2="-5.45"/>
<line x1="-26.30" y1="-5.45" x2="447.70" y2="482.95"/>
<line x1="-26.30" y1="482.95" x2="447.70" y2="-5.45"/>
<line x1="-14.45" y1="-5.45" x2="459.55" y2="482.95"/>
<line x1="-14.45" y1="482.95" x2="459.55" y2="-5.45"/>
<line x1="-2.60" y1="-5.45" x2="471.40" y2="482.95"/>
<line x1="-2.60" y1="482.95" x2="471.40" y2="-5.45"/>
<line x1="9.25" y1="-5.45" x2="483.25" y2="482.95"/>
<line x1="9.25" y1="482.95" x2="483.25" y2="-5.45"/>
<line x1="21.10" y1="-5.45" x2="495.10" y2="482.95"/>
<line x1="21.10" y1="482.95" x2="495.10" y2="-5.45"/>
<line x1="32.95" y1="-5.45" x2="506.95" y2="482.95"/>
<line x1="32.95" y1="482.95" x2="506.95" y2="-5.45"/>
<line x1="44.80" y1="-5.45" x2="518.80" y2="482.95"/>
<line x1="44.80" y1="482.95" x2="518.80" y2="-5.45"/>
<line x1="56.65" y1="-5.45" x2="530.65" y2="482.95"/>
<line x1="56.65" y1="482.95" x2="530.65" y2="-5.45"/>
<line x1="68.50" y1="-5.45" x2="542.50" y2="482.95"/>
<line x1="68.50" y1="482.95" x2="542.50" y2="-5.45"/>
<line x1="80.35" y1="-5.45" x2="554.35" y2="482.95"/>
<line x1="80.35" y1="482.95" x2="554.35" y2="-5.45"/>
<line x1="92.20" y1="-5.45" x2="566.20" y2="482.95"/>
<line x1="92.20" y1="482.95" x2="566.20" y2="-5.45"/>
<line x1="104.05" y1="-5.45" x2="578.05" y2="482.95"/>
<line x1="104.05" y1="482.95" x2="578.05" y2="-5.45"/>
<line x1="115.90" y1="-5.45" x2="589.90" y2="482.95"/>
<line x1="115.90" y1="482.95" x2="589.90" y2="-5.45"/>
<line x1="127.75" y1="-5.45" x2="601.75" y2="482.95"/>
<line x1="127.75" y1="482.95" x2="601.75" y2="-5.45"/>
<line x1="139.60" y1="-5.45" x2="613.60" y2="482.95"/>
<line x1="139.60" y1="482.95" x2="613.60" y2="-5.45"/>
<line x1="151.45" y1="-5.45" x2="625.45" y2="482.95"/>
<line x1="151.45" y1="482.95" x2="625.45" y2="-5.45"/>
<line x1="163.30" y1="-5.45" x2="637.30" y2="482.95"/>
<line x1="163.30" y1="482.95" x2="637.30" y2="-5.45"/>
<line x1="175.15" y1="-5.45" x2="649.15" y2="482.95"/>
<line x1="175.15" y1="482.95" x2="649.15" y2="-5.45"/>
<line x1="187.00" y1="-5.45" x2="661.00" y2="482.95"/>
<line x1="187.00" y1="482.95" x2="661.00" y2="-5.45"/>
<line x1="198.85" y1="-5.45" x2="672.85" y2="482.95"/>
<line x1="198.85" y1="482.95" x2="672.85" y2="-5.45"/>
<line x1="210.70" y1="-5.45" x2="684.70" y2="482.95"/>
<line x1="210.70" y1="482.95" x2="684.70" y2="-5.45"/>
<line x1="222.55" y1="-5.45" x2="696.55" y2="482.95"/>
<line x1="222.55" y1="482.95" x2="696.55" y2="-5.45"/>
<line x1="234.40" y1="-5.45" x2="708.40" y2="482.95"/>
<line x1="234.40" y1="482.95" x2="708.40" y2="-5.45"/>
<line x1="246.25" y1="-5.45" x2="720.25" y2="482.95"/>
<line x1="246.25" y1="482.95" x2="720.25" y2="-5.45"/>
<line x1="258.10" y1="-5.45" x2="732.10" y2="482.95"/>
<line x1="258.10" y1="482.95" x2="732.10" y2="-5.45"/>
<line x1="269.95" y1="-5.45" x2="743.95" y2="482.95"/>
<line x1="269.95" y1="482.95" x2="743.95" y2="-5.45"/>
<line x1="281.80" y1="-5.45" x2="755.80" y2="482.95"/>
<line x1="281.80" y1="482.95" x2="755.80" y2="-5.45"/>
<line x1="293.65" y1="-5.45" x2="767.65" y2="482.95"/>
<line x1="293.65" y1="482.95" x2="767.65" y2="-5.45"/>
</g></g>
</svg></body></html>
